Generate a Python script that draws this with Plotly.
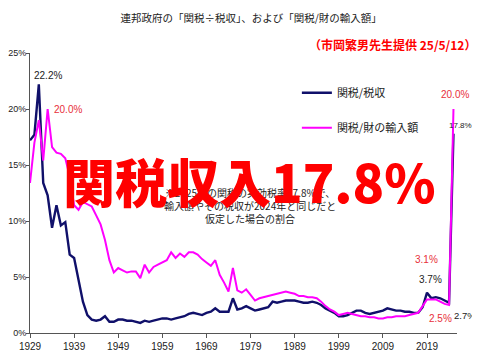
import plotly.graph_objects as go

years = list(range(1929, 2026))

tariff_to_receipts = [
    17.2, 17.7, 22.2, 13.4, 12.3, 9.4, 11.4, 9.6, 9.9, 7.0,
    6.7, 4.6, 2.8, 1.6, 1.2, 1.1, 1.2, 1.5, 1.0, 1.0,
    1.2, 1.2, 1.1, 1.1, 1.0, 0.9, 1.1, 1.0, 1.1, 1.2,
    1.3, 1.3, 1.2, 1.3, 1.4, 1.5, 1.7, 1.8, 1.7, 1.6,
    1.8, 1.9, 2.2, 1.9, 1.9, 1.9, 3.1, 2.1, 2.2, 2.4,
    2.2, 2.0, 2.1, 2.2, 2.3, 2.8, 2.7, 2.8, 2.9, 2.9,
    2.9, 2.8, 2.7, 2.7, 2.8, 2.7, 2.5, 2.2, 2.0, 1.8,
    1.5, 1.5, 1.6, 1.8, 2.0, 2.0, 1.8, 1.7, 1.8, 1.9,
    2.0, 2.2, 2.1, 2.0, 2.0, 1.9, 1.9, 1.8, 1.8, 2.3,
    3.6, 3.1, 3.2, 3.1, 2.9, 2.7, 17.8,
]

tariff_to_imports = [
    13.4, 17.0, 19.0, 15.4, 20.0, 16.6, 16.1, 16.0, 15.6, 14.0,
    11.4, 11.0, 11.7, 11.5, 11.3, 10.5, 9.7, 8.3, 6.5, 5.4,
    5.8, 5.6, 5.4, 5.5, 5.5, 4.9, 6.1, 5.4, 5.9, 6.1,
    6.3, 6.5, 7.2, 6.7, 7.1, 6.8, 7.2, 7.2, 7.0, 6.6,
    6.3, 6.0, 6.5, 5.2, 4.5, 3.7, 5.8, 3.8, 3.6, 3.9,
    3.4, 2.9, 3.1, 3.2, 3.3, 3.4, 3.5, 3.6, 3.7, 3.6,
    3.5, 3.3, 3.3, 3.2, 3.2, 3.1, 2.8, 2.4, 2.1, 1.9,
    1.6, 1.7, 1.8, 1.7, 1.6, 1.5, 1.5, 1.4, 1.4, 1.3,
    1.3, 1.4, 1.4, 1.5, 1.5, 1.5, 1.6, 1.7, 1.8, 2.4,
    3.0, 3.0, 3.0, 2.8, 2.6, 2.5, 20.0,
]

series_names = ["関税/税収", "関税/財の輸入額"]
y_ticks = [0, 5, 10, 15, 20, 25]
y_tick_labels = ["0%", "5%", "10%", "15%", "20%", "25%"]
x_ticks = [1929, 1939, 1949, 1959, 1969, 1979, 1989, 1999, 2009, 2019]

title_text = "連邦政府の「関税÷税収」、および「関税/財の輸入額」"
source_text = "（市岡繁男先生提供 25/5/12）"
headline_text = "関税収入17.8%"
note_text = "※2025年の関税の実効税率17.8%で、<br>輸入額やその税収が2024年と同じだと<br>仮定した場合の割合"

NAVY = "#10106a"
MAGENTA = "#ff00ff"
RED = "#ff0000"
LABEL_RED = "#e8303a"
JP = "Noto Sans CJK JP"
NUM = "Liberation Sans Narrow, Liberation Sans, Noto Sans CJK JP"

fig = go.Figure()
fig.add_trace(go.Scatter(x=years, y=tariff_to_receipts, mode="lines", name=series_names[0],
                         line=dict(color=NAVY, width=2.4), legendgroup="a"))
fig.add_trace(go.Scatter(x=years, y=tariff_to_imports, mode="lines", name=series_names[1],
                         line=dict(color=MAGENTA, width=2), legendgroup="b"))

def idx(y):
    return years.index(y)

def val_label(year, series, text, color, xshift, yshift, xanchor="center", size=10):
    fig.add_annotation(x=year, y=series[idx(year)], xref="x", yref="y", text=text,
                       showarrow=False, xshift=xshift, yshift=yshift, xanchor=xanchor,
                       font=dict(family=NUM, size=size, color=color))

val_label(1931, tariff_to_receipts, "22.2%", "#222222", 9, 9)
val_label(1933, tariff_to_imports, "20.0%", LABEL_RED, 4, 0, "left")
val_label(2019, tariff_to_receipts, "3.7%", "#222222", 3, 13)
val_label(2019, tariff_to_imports, "3.1%", LABEL_RED, -1, 40)
val_label(2024, tariff_to_imports, "2.5%", LABEL_RED, -9, -13)
val_label(2024, tariff_to_receipts, "2.7%", "#222222", 3, -13, "left", 9.5)
val_label(2025, tariff_to_imports, "20.0%", LABEL_RED, 2, 15)
val_label(2025, tariff_to_receipts, "17.8%", "#222222", 21, 8, "right", 8)

fig.add_annotation(x=0.721, y=0.454, xref="paper", yref="paper", text=note_text,
                   showarrow=False, align="center",
                   font=dict(family=JP, size=10, color="#222222"))
fig.add_annotation(x=0.513, y=0.543, xref="paper", yref="paper", text=headline_text,
                   showarrow=False, font=dict(family=JP, size=52, color=RED, weight=900))
fig.add_annotation(x=1.049, y=1.029, xref="paper", yref="paper", text="<b>" + source_text + "</b>",
                   showarrow=False, xanchor="right", yanchor="middle",
                   font=dict(family=JP, size=12, color=RED))

# page body adds an 8px offset; keep the figure inside the window
fig.update_layout(
    width=472, height=344,
    margin=dict(l=22, r=23, t=45, b=19, autoexpand=False),
    paper_bgcolor="white", plot_bgcolor="white",
    title=dict(text=title_text, x=0.515, xanchor="center", y=1 - 10 / 344, yanchor="middle",
               font=dict(family=JP, size=10.5, color="#222222")),
    showlegend=True,
    legend=dict(x=0.625, y=0.91, xanchor="left", yanchor="top", bgcolor="rgba(0,0,0,0)",
                font=dict(family=JP, size=11, color="#222222"),
                traceorder="grouped", tracegroupgap=16, itemwidth=30),
    xaxis=dict(range=[1929, 2025.8], tickvals=x_ticks, ticktext=[str(t) for t in x_ticks],
               automargin=False,
               showgrid=False, zeroline=False, showline=True, linecolor="#555555", linewidth=1,
               ticks="outside", ticklen=4, tickcolor="#555555",
               tickfont=dict(family=NUM, size=10, color="#222222")),
    yaxis=dict(range=[0, 25], tickvals=y_ticks, ticktext=y_tick_labels,
               automargin=False, ticklabelstandoff=-2,
               showgrid=False, zeroline=False, showline=True, linecolor="#555555", linewidth=1,
               ticks="outside", ticklen=3, tickcolor="#555555",
               tickfont=dict(family=NUM, size=9, color="#222222")),
)

fig.write_html("out.html")
